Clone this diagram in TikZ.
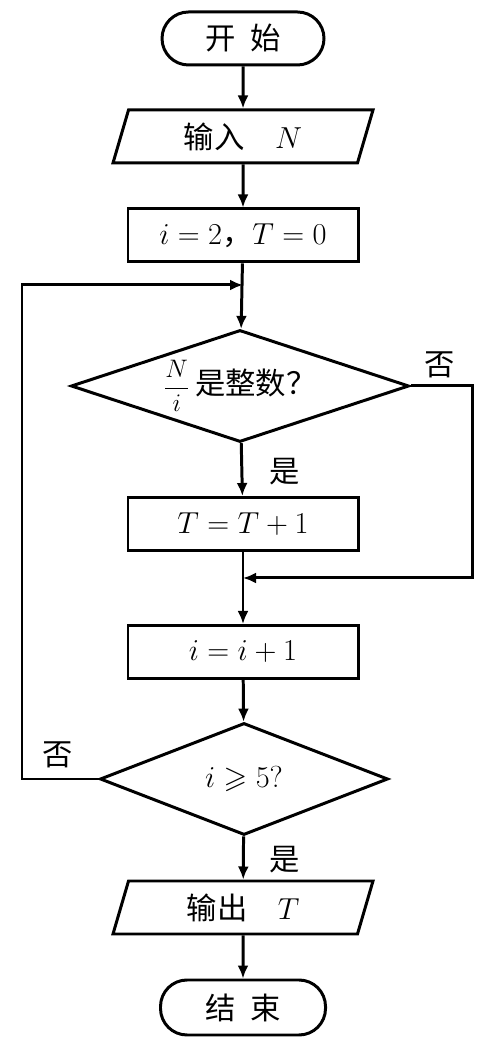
\documentclass[tikz,border=0pt]{standalone}
\usepackage{amssymb,amsmath}
\usepackage{fontspec}
\newfontfamily\cjk{Noto Sans CJK SC}
\usetikzlibrary{shapes.geometric}
\usetikzlibrary{arrows.meta}

\begin{document}
\begin{tikzpicture}[line width=1.7pt,>={Latex[length=2.6mm,width=2.2mm]}]
  \tikzstyle{terminal}=[rectangle,draw,rounded corners=5.3mm,minimum width=3.24cm,minimum height=1.06cm,font=\LARGE\cjk]
  \tikzstyle{inout}=[trapezium,draw,trapezium left angle=61,trapezium right angle=119,trapezium stretches body,minimum width=5.2cm,minimum height=1.06cm,inner sep=0pt,font=\LARGE]
  \tikzstyle{process}=[rectangle,draw,minimum width=4.6cm,minimum height=1.06cm,font=\LARGE]
  \tikzstyle{decision}=[diamond,draw,inner sep=0pt,minimum height=2.24cm,font=\LARGE]
  \tikzstyle{lables}=[font=\LARGE\cjk]
  \useasboundingbox (0,0) rectangle (9.84,20.94);
  \node (start) at (4.86,20.17) [terminal] {开\enskip 始};
  \node (input) at (4.86,18.21) [inout] {{\cjk 输入}\quad $N$};
  \node (init) at (4.86,16.23) [process] {$i=2${\cjk ，}$T=0$};
  \coordinate (loopin) at (4.86,15.24);
  \node (divides) at (4.80,13.22) [decision,aspect=3,minimum width=6.76cm] {{\Large$\dfrac{N}{i}$}\,{\cjk 是整数？}};
  \node (count) at (4.86,10.46) [process] {$T=T+1$};
  \coordinate (join) at (4.86,9.38);
  \node (next) at (4.86,7.90) [process] {$i=i+1$};
  \node (check) at (4.88,5.36) [decision,aspect=2.57,minimum width=5.76cm] {$i\geqslant5$?};
  \node (output) at (4.86,2.79) [inout] {{\cjk 输出}\quad $T$};
  \node (stop) at (4.86,0.79) [terminal,minimum width=3.3cm,minimum height=1.1cm] {结\enskip 束};
  \draw [->] (start) -- (input);
  \draw [->] (input) -- (init);
  \draw [->] (init) -- (divides);
  \draw [->] (divides) -- (count);
  \draw [->] (count) -- (next);
  \draw [->] (next) -- (check);
  \draw [->] (check) -- (output);
  \draw [->] (output) -- (stop);
  \draw [->] (divides.east) -- (9.44,13.22) |- (join);
  \draw [->] (check.west) -- (0.44,5.36) |- (loopin);
  \node[lables] (nolabelone) at (8.8,13.64) {否};
  \node[lables] (yeslabelone) at (5.7,11.5) {是};
  \node[lables] (nolabeltwo) at (1.16,5.84) {否};
  \node[lables] (yeslabeltwo) at (5.7,3.74) {是};
\end{tikzpicture}
\end{document}
